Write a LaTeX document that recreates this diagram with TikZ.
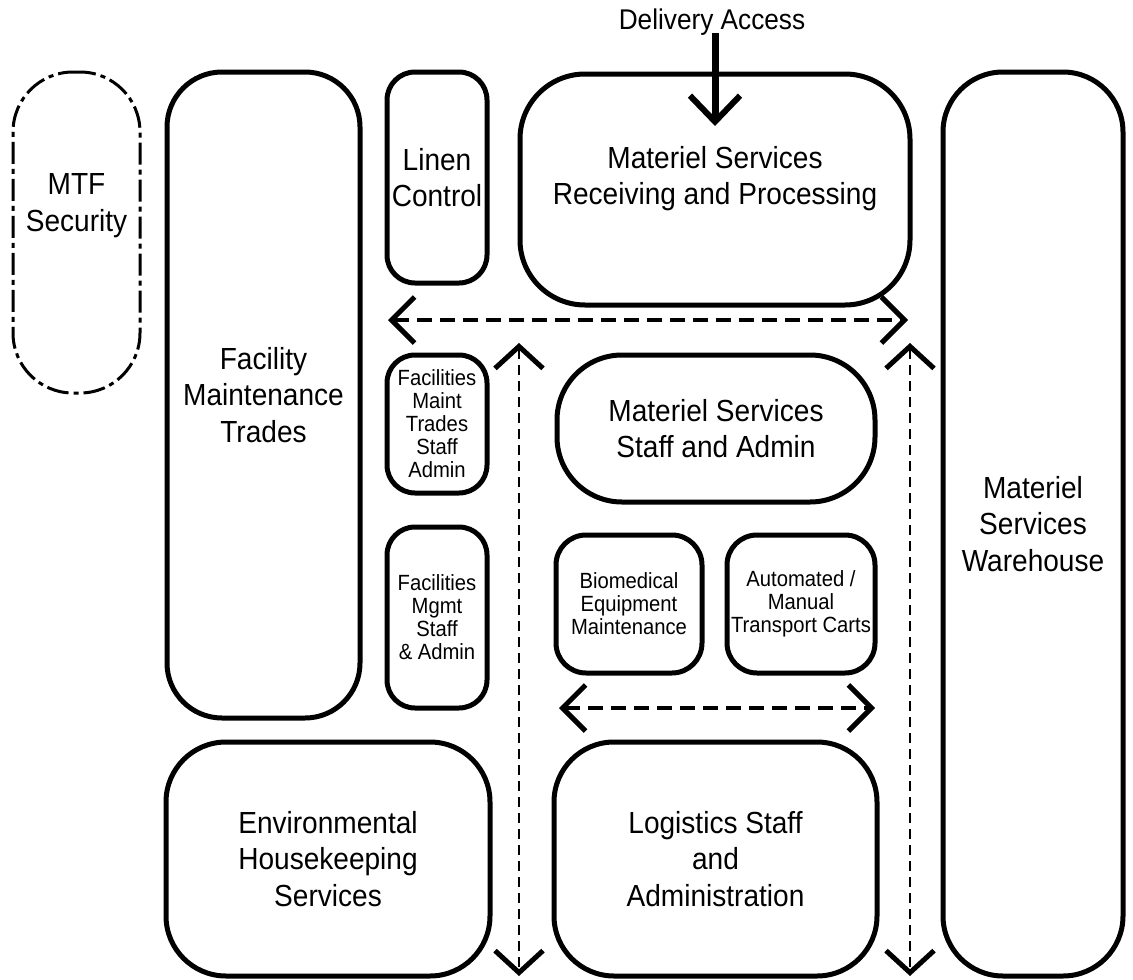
\documentclass[tikz,border=0pt]{standalone}
\usepackage{fontspec}
\setmainfont[FakeStretch=0.92]{Liberation Sans}
\usetikzlibrary{arrows.meta}
\tikzset{
  bigfont/.style={font=\fontsize{30.5}{36.5}\selectfont},
  box/.style={draw=black, line width=5pt, align=center, inner sep=0pt, bigfont},
  smallbox/.style={box, font=\fontsize{22}{23}\selectfont},
  secbox/.style={box, line width=3pt, dash pattern=on 22pt off 5pt on 5pt off 5pt},
  flow/.style={line width=3.5pt, dash pattern=on 15pt off 8pt,
    {Straight Barb[length=23pt, width=46pt, line width=5pt]}-{Straight Barb[length=23pt, width=46pt, line width=5pt]}},
  vflow/.style={line width=2.5pt, dash pattern=on 10pt off 6pt,
    {Straight Barb[length=22pt, width=48pt, line width=5pt]}-{Straight Barb[length=22pt, width=48pt, line width=5pt]}},
  inflow/.style={line width=7pt, -{Straight Barb[length=26pt, width=50pt, line width=6pt]}},
}
\begin{document}
\begin{tikzpicture}[x=1pt, y=-1pt]
\useasboundingbox (0,0) rectangle (1133,980);
% boxes
\node[secbox, rounded corners=60pt, minimum width=127pt, minimum height=321pt,
  label={[bigfont, align=center, yshift=27pt]center:MTF\\Security}]
  (mtf) at (76.5,232.5) {};
\node[box, rounded corners=55pt, minimum width=193pt, minimum height=646pt] (fmt) at (263.5,395) {Facility\\Maintenance\\Trades};
\node[box, rounded corners=28pt, minimum width=100pt, minimum height=211pt] (linen) at (437,177.5) {Linen\\Control};
\node[box, rounded corners=65pt, minimum width=390pt, minimum height=231pt,
  label={[bigfont, align=center, yshift=11pt]center:Materiel Services\\Receiving and Processing}]
  (recv) at (715,189.5) {};
\node[smallbox, rounded corners=28pt, minimum width=100pt, minimum height=138pt] (fmts) at (437,424) {Facilities\\Maint\\Trades\\Staff\\Admin};
\node[smallbox, rounded corners=28pt, minimum width=100pt, minimum height=181pt] (fmgmt) at (437,617.5) {Facilities\\Mgmt\\Staff\\\& Admin};
\node[box, rounded corners=65pt, minimum width=318pt, minimum height=147pt] (mss) at (716,428.5) {Materiel Services\\Staff and Admin};
\node[smallbox, rounded corners=30pt, minimum width=146pt, minimum height=138pt] (bio) at (629,604) {Biomedical\\Equipment\\Maintenance};
\node[smallbox, rounded corners=30pt, minimum width=148pt, minimum height=138pt] (auto) at (801,604) {Automated /\\Manual\\Transport Carts};
\node[box, rounded corners=60pt, minimum width=324pt, minimum height=234pt] (env) at (328,859) {Environmental\\Housekeeping\\Services};
\node[box, rounded corners=60pt, minimum width=323pt, minimum height=234pt] (log) at (715.5,859) {Logistics Staff\\and\\Administration};
\node[box, rounded corners=60pt, minimum width=180pt, minimum height=904pt] (wh) at (1033,524) {Materiel\\Services\\Warehouse};
% delivery
\node[font=\fontsize{28.5}{30}\selectfont, inner sep=0pt] (deliv) at (712,22) {Delivery Access};
\coordinate (dstart) at (715,33);
\coordinate (dend) at (715,126);
\draw[inflow] (dstart) -- (dend);
% flows
\coordinate (h1a) at (388,320);
\coordinate (h1b) at (908,320);
\draw[flow] (h1a) -- (h1b);
\coordinate (h2a) at (559,708);
\coordinate (h2b) at (875,708);
\draw[flow] (h2a) -- (h2b);
\coordinate (v1a) at (519,343);
\coordinate (v1b) at (519,976);
\draw[vflow] (v1a) -- (v1b);
\coordinate (v2a) at (910,343);
\coordinate (v2b) at (910,976);
\draw[vflow] (v2a) -- (v2b);
\end{tikzpicture}
\end{document}
